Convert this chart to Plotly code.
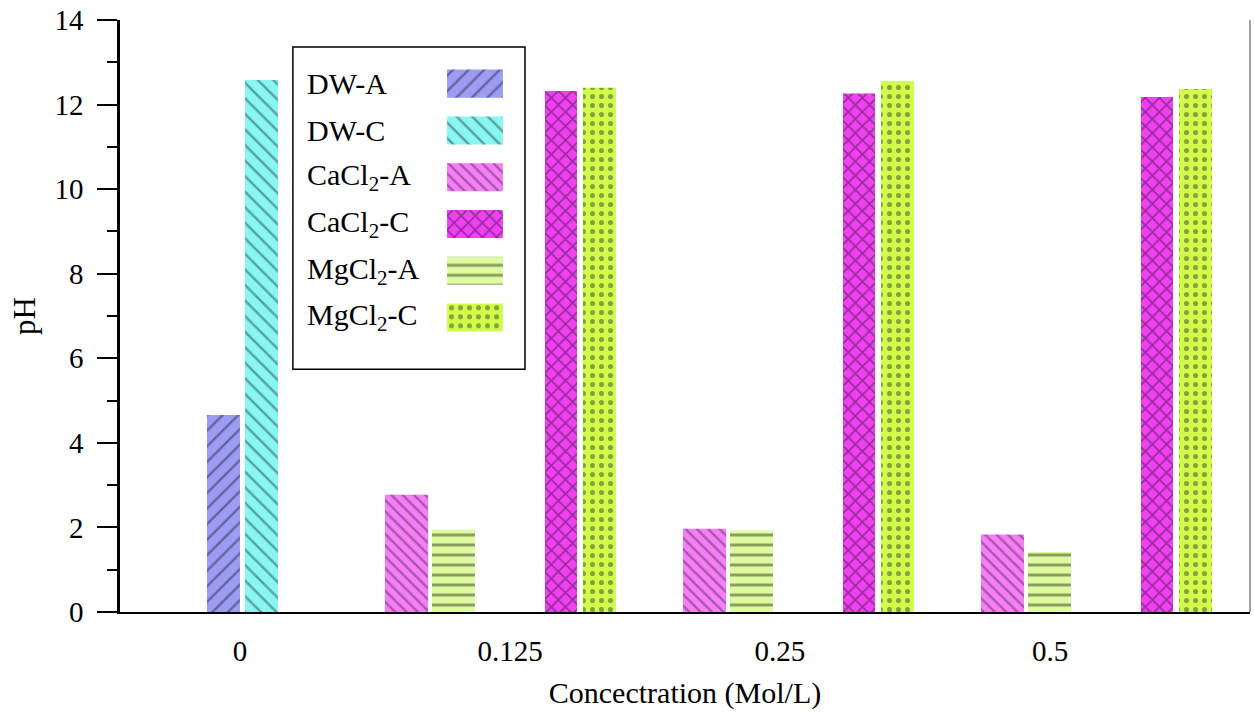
import plotly.graph_objects as go

# ---------------- data ----------------
categories = ["0", "0.125", "0.25", "0.5"]
series_names = ["DW-A", "DW-C", "CaCl<sub>2</sub>-A", "CaCl<sub>2</sub>-C",
                "MgCl<sub>2</sub>-A", "MgCl<sub>2</sub>-C"]
dw_a = [4.66, None, None, None]
dw_c = [12.58, None, None, None]
cacl2_a = [None, 2.77, 1.97, 1.83]
cacl2_c = [None, 12.32, 12.26, 12.18]
mgcl2_a = [None, 1.95, 1.93, 1.42]
mgcl2_c = [None, 12.40, 12.56, 12.37]
series_values = [dw_a, dw_c, cacl2_a, cacl2_c, mgcl2_a, mgcl2_c]

# ---------------- styles ----------------
bg_colors = ["#9c9cf2", "#8af6f2", "#f87ef8", "#f040f0", "#e0fca0", "#d2fc4a"]
fg_colors = ["#2a2a55", "#1f4d4d", "#55305a", "#3a1648", "#333f20", "#3a4a2a"]
shapes_pat = ["/", "\\", "\\", "x", "-", "."]
pat_size = [11, 11, 8, 10, 10, 9]
pat_solid = [0.22, 0.22, 0.3, 0.3, 0.3, 0.25]
# bar placement within a group (in units of group spacing)
bar_offset = [0.0, 0.1275, -0.4027, 0.1342, -0.245, 0.2617]
bar_width = [0.1107, 0.1107, 0.1443, 0.1074, 0.1443, 0.1107]
tick_pos = [0.1107, 1.0168, 1.9228, 2.8289]

FONT = "Liberation Serif, Times New Roman, serif"

fig = go.Figure()
group_idx = list(range(len(categories)))
for k, vals in enumerate(series_values):
    fig.add_trace(go.Bar(
        x=group_idx, y=vals, name=series_names[k],
        offset=bar_offset[k], width=bar_width[k],
        marker=dict(color=bg_colors[k], line=dict(width=0),
                    pattern=dict(shape=shapes_pat[k], fgcolor=fg_colors[k],
                                 bgcolor=bg_colors[k], size=pat_size[k],
                                 solidity=pat_solid[k], fillmode="overlay")),
        showlegend=False,
    ))

# custom legend swatches (text left, swatch right)
for k, name in enumerate(series_names):
    fig.add_trace(go.Bar(
        x=[1], y=[k], base=0, orientation="h", width=0.6,
        xaxis="x2", yaxis="y2", showlegend=False, hoverinfo="skip",
        marker=dict(color=bg_colors[k], line=dict(width=0),
                    pattern=dict(shape=shapes_pat[k], fgcolor=fg_colors[k],
                                 bgcolor=bg_colors[k], size=pat_size[k],
                                 solidity=pat_solid[k], fillmode="overlay")),
    ))
    fig.add_annotation(x=0.1637, xref="paper", y=k, yref="y2", text=name,
                       showarrow=False, xanchor="left", yanchor="middle",
                       font=dict(family=FONT, size=30, color="black"))

fig.update_layout(
    width=1254, height=713,
    margin=dict(l=120, r=4, t=17, b=101),
    paper_bgcolor="white", plot_bgcolor="white",
    barmode="overlay",
    font=dict(family=FONT, size=29, color="black"),
    xaxis=dict(
        range=[-0.2919, 3.5], tickmode="array", tickvals=tick_pos, ticktext=categories,
        showline=True, linecolor="black", linewidth=2, ticks="", showgrid=False,
        zeroline=False, ticklabelstandoff=12,
        title=dict(text="Concectration (Mol/L)", standoff=16,
                   font=dict(family=FONT, size=30)),
        tickfont=dict(family=FONT, size=29),
    ),
    yaxis=dict(
        range=[0, 14], dtick=2, showline=True, linecolor="black", linewidth=2.5,
        ticks="outside", ticklen=20, tickwidth=2, tickcolor="black",
        minor=dict(dtick=1, ticks="outside", ticklen=10, tickwidth=2, tickcolor="black"),
        showgrid=False, zeroline=False, ticklabelstandoff=8,
        title=dict(text="pH", standoff=10, font=dict(family=FONT, size=31)),
        tickfont=dict(family=FONT, size=29),
    ),
    xaxis2=dict(domain=[0.2894, 0.3389], range=[0, 1], visible=False, anchor="y2",
                fixedrange=True),
    yaxis2=dict(domain=[0.458, 0.932], range=[5.5, -0.5], visible=False, anchor="x2",
                fixedrange=True),
    shapes=[
        dict(type="rect", xref="paper", yref="paper", x0=0.153, x1=0.3584,
             y0=0.410, y1=0.9546, line=dict(color="black", width=1.5)),
        dict(type="line", xref="paper", yref="paper", x0=1, x1=1, y0=0, y1=1,
             line=dict(color="#444444", width=1)),
    ],
)

fig.write_html("out.html")
